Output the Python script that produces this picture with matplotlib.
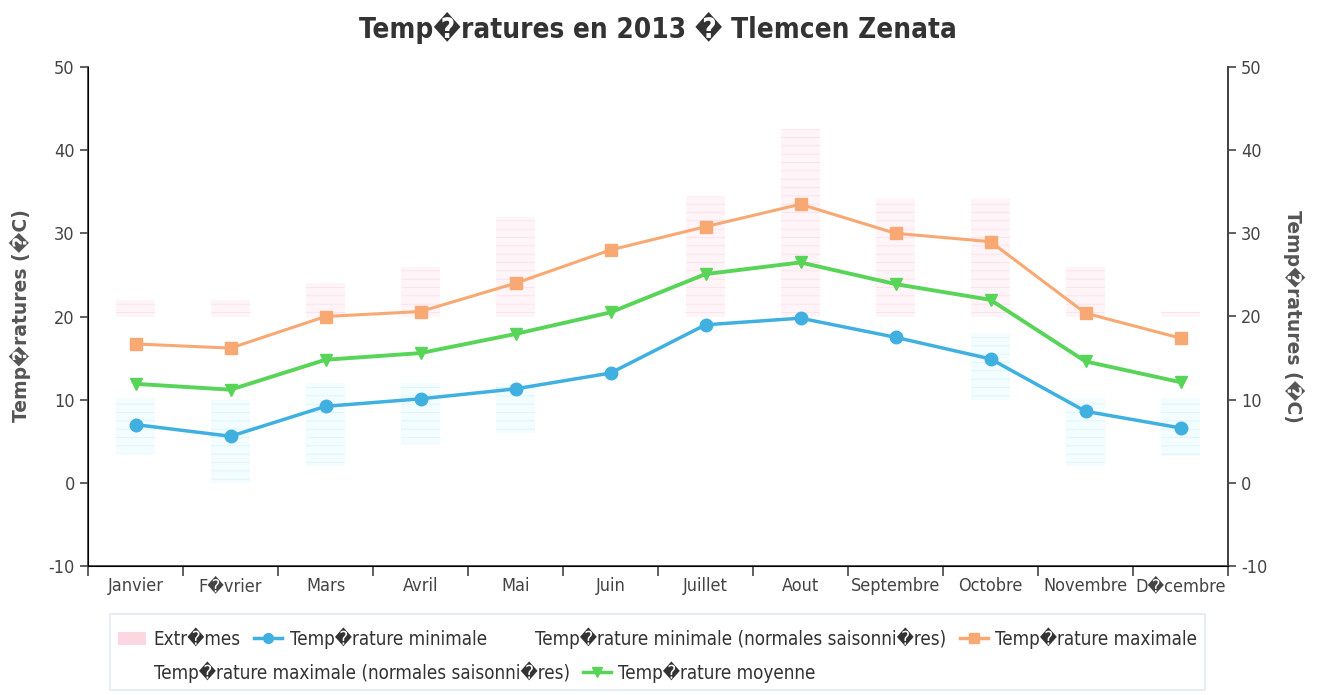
import matplotlib
matplotlib.use('Agg')
import matplotlib.pyplot as plt
from matplotlib.lines import Line2D
from matplotlib.patches import Patch, Rectangle
import numpy as np

plt.rcParams['font.family'] = ['DejaVu Sans']
plt.rcParams['font.stretch'] = 'condensed'
plt.rcParams['axes.unicode_minus'] = False
plt.rcParams['hatch.linewidth'] = 0.5

R = '\ufffd'
months = ['Janvier', 'F' + R + 'vrier', 'Mars', 'Avril', 'Mai', 'Juin', 'Juillet',
          'Aout', 'Septembre', 'Octobre', 'Novembre', 'D' + R + 'cembre']

t_min = [7.0, 5.6, 9.2, 10.1, 11.3, 13.2, 19.0, 19.8, 17.5, 14.9, 8.6, 6.6]
t_max = [16.7, 16.2, 20.0, 20.6, 24.0, 28.0, 30.8, 33.5, 30.0, 29.0, 20.4, 17.4]
t_moy = [11.9, 11.2, 14.8, 15.6, 17.9, 20.5, 25.1, 26.5, 23.9, 22.0, 14.6, 12.1]

# extremes (pink = hot side, cyan = cold side), nan = nothing drawn
ext_hot_low = [20, 20, 20, 20, 20, np.nan, 20, 20, 20, 20, 20, 20]
ext_hot_high = [22, 22, 24, 26, 32, np.nan, 34.5, 42.5, 34.2, 34.2, 26, 20.6]
ext_cold_low = [3.5, 0, 2, 4.5, 6, np.nan, np.nan, np.nan, np.nan, 10, 2, 3.2]
ext_cold_high = [10.2, 10, 12, 12, 12, np.nan, np.nan, np.nan, np.nan, 18, 10.2, 10.2]

c_min = '#3fb0e0'
c_max = '#f8a873'
c_moy = '#58d458'
c_axis = '#444444'

fig = plt.figure(figsize=(13.2, 6.95), dpi=100)
ax = fig.add_axes([88/1320, 1-566/695, (1228-88)/1320, (566-67)/695])
x = np.arange(len(months))

hot_h = np.array(ext_hot_high) - np.array(ext_hot_low)
cold_h = np.array(ext_cold_high) - np.array(ext_cold_low)
ax.bar(x, hot_h, bottom=ext_hot_low, width=0.42, color='#fff5f8',
       edgecolor='#fbdbe6', hatch='--', linewidth=0, zorder=1)
ax.bar(x, cold_h, bottom=ext_cold_low, width=0.42, color='#f3fcfe',
       edgecolor='#d6f4f9', hatch='--', linewidth=0, zorder=1)

ax.plot(x, t_min, color=c_min, lw=2.5, marker='o', ms=9, zorder=3)
ax.plot(x, t_max, color=c_max, lw=2.2, marker='s', ms=9, zorder=3)
ax.plot(x, t_moy, color=c_moy, lw=2.8, marker='v', ms=9, zorder=3)

ax.set_xlim(-0.5, 11.5)
ax.set_ylim(-10, 50)
ax.set_yticks(range(-10, 51, 10))
ax.set_xticks(x)
ax.set_xticklabels(months, fontsize=13, color=c_axis)
ax.set_xticks(np.arange(-0.5, 12, 1), minor=True)
ax.tick_params(axis='x', which='major', length=0, pad=8)
ax.tick_params(axis='x', which='minor', length=7, width=1.2, color=c_axis)
ax.tick_params(axis='y', length=6, width=1.2, color=c_axis, labelsize=13,
               labelcolor=c_axis)
ax.spines['top'].set_visible(False)
for s in ['left', 'bottom', 'right']:
    ax.spines[s].set_color(c_axis)
    ax.spines[s].set_linewidth(1.3)

ax2 = ax.twinx()
ax2.set_ylim(-10, 50)
ax2.set_yticks(range(-10, 51, 10))
ax2.tick_params(axis='y', length=6, width=1.2, color=c_axis, labelsize=13,
                labelcolor=c_axis)
ax2.spines['top'].set_visible(False)
ax2.spines['right'].set_color(c_axis)
ax2.spines['right'].set_linewidth(1.3)

ylab = 'Temp' + R + 'ratures (' + R + 'C)'
fig.text(20/1320, 1-316/695, ylab, rotation=90, ha='center', va='center',
         fontsize=13.5, fontweight='bold', color='#555555', stretch='normal')
fig.text(1294/1320, 1-316/695, ylab, rotation=-90, ha='center', va='center',
         fontsize=13.5, fontweight='bold', color='#555555', stretch='normal')

fig.text(658/1320, 1-28/695, 'Temp' + R + 'ratures en 2013 ' + R + ' Tlemcen Zenata',
         ha='center', va='center', fontsize=20, fontweight='bold', color='#333333')

# legend
fig.patches.append(Rectangle((110/1320, 1-690/695), 1095/1320, 76/695,
                             transform=fig.transFigure, fill=False,
                             edgecolor='#e3eaf0', linewidth=1.2))
h_ext = Patch(facecolor='#fcd6e1', edgecolor='none')
h_min = Line2D([], [], color=c_min, lw=2.5, marker='o', ms=7)
h_none = Line2D([], [], color='none')
h_max = Line2D([], [], color=c_max, lw=2.5, marker='s', ms=7)
h_moy = Line2D([], [], color=c_moy, lw=2.5, marker='v', ms=7)

leg_kw = dict(loc='center left', frameon=False, fontsize=13.5, handlelength=1.5,
              handletextpad=0.4, columnspacing=0.7, borderaxespad=0, borderpad=0)
leg1 = fig.legend([h_ext, h_min, h_none, h_max],
                  ['Extr' + R + 'mes', 'Temp' + R + 'rature minimale',
                   'Temp' + R + 'rature minimale (normales saisonni' + R + 'res)',
                   'Temp' + R + 'rature maximale'],
                  bbox_to_anchor=(118/1320, 1-638/695), ncol=4, **leg_kw)
leg2 = fig.legend([h_none, h_moy],
                  ['Temp' + R + 'rature maximale (normales saisonni' + R + 'res)',
                   'Temp' + R + 'rature moyenne'],
                  bbox_to_anchor=(118/1320, 1-672/695), ncol=2, **leg_kw)
for leg in (leg1, leg2):
    for t in leg.get_texts():
        t.set_color('#333333')

fig.savefig('out.png', dpi=100, facecolor='white')
